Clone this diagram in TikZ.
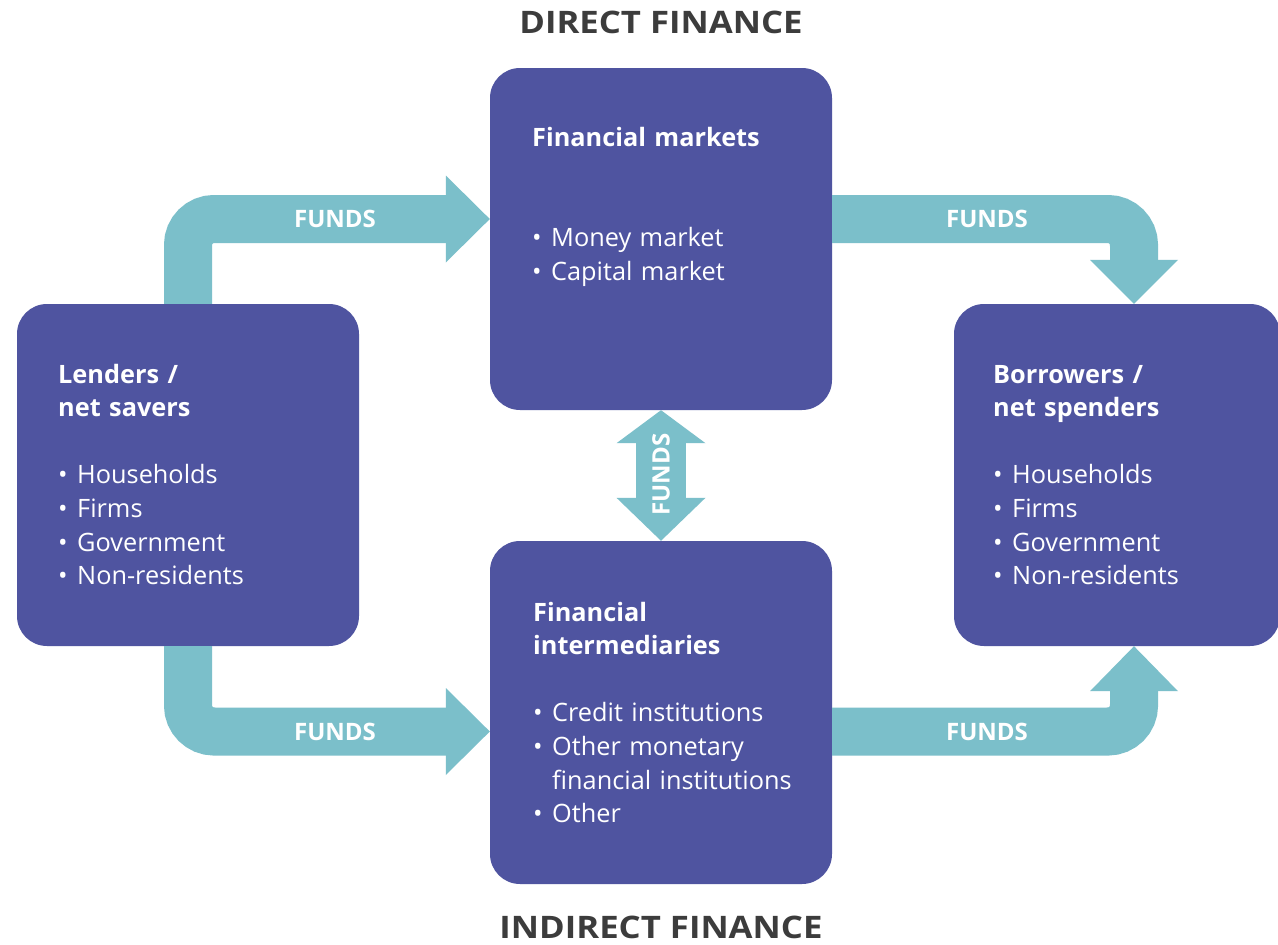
\documentclass[tikz,border=0pt]{standalone}
\usepackage{fontspec}
\setmainfont{Open Sans}
\newfontfamily\headfont[FakeStretch=1.12]{Open Sans}
\usetikzlibrary{calc}
\definecolor{boxblue}{HTML}{4F54A0}
\definecolor{flow}{HTML}{7BBFCA}
\definecolor{headgray}{HTML}{3C3C3C}
\newcommand\bul{\makebox[19pt][l]{•}}
\newcommand\ind{\hspace*{19pt}}
\tikzset{
 panel/.style={fill=boxblue, rounded corners=30pt, inner sep=0pt, minimum width=342pt, minimum height=342pt},
 paneltext/.style={anchor=base west, text=white, align=left, text width=310pt, inner sep=0pt, font=\fontsize{25.3}{33.6}\selectfont},
 shaft/.style={draw=flow, line width=48pt, rounded corners=26pt},
 headtip/.style={fill=flow},
 fundslabel/.style={text=white, font=\fontsize{24}{28}\selectfont\bfseries, inner sep=0pt},
 heading/.style={text=headgray, font=\headfont\fontsize{31}{36}\selectfont\bfseries, inner sep=0pt, anchor=base}
}
\begin{document}
\begin{tikzpicture}[x=1pt,y=-1pt]
\useasboundingbox (0,0) rectangle (1278,945);
\clip (0,0) rectangle (1278,945);
\fill[white] (0,0) rectangle (1278,945);

% panels
\node[panel] (fm) at (661,239) {};
\node[panel, minimum height=343pt] (fi) at (661,712.5) {};
\node[panel] (lend) at (188,475) {};
\node[panel, minimum width=326pt] (bor) at (1117,475) {};

% arrow end points
\coordinate (t1) at ([yshift=20pt]fm.west);
\coordinate (t2) at ([xshift=17pt]bor.north);
\coordinate (t3) at ([yshift=-19pt]fi.west);
\coordinate (t4) at ([xshift=17pt]bor.south);
\coordinate (s2) at ([yshift=20pt]fm.east);
\coordinate (s4) at ([yshift=-19pt]fi.east);

% top-left
\draw[shaft] (lend.north) -- (lend.north |- t1) -- ([xshift=-43pt]t1);
\fill[headtip] (t1) -- ([xshift=-44pt,yshift=43.5pt]t1) -- ([xshift=-44pt,yshift=-43.5pt]t1) -- cycle;
% top-right
\draw[shaft] (s2) -- (s2 -| t2) -- ([yshift=43pt]t2);
\fill[headtip] (t2) -- ([xshift=-44pt,yshift=44pt]t2) -- ([xshift=44pt,yshift=44pt]t2) -- cycle;
% bottom-left
\draw[shaft] (lend.south) -- (lend.south |- t3) -- ([xshift=-43pt]t3);
\fill[headtip] (t3) -- ([xshift=-44pt,yshift=43.5pt]t3) -- ([xshift=-44pt,yshift=-43.5pt]t3) -- cycle;
% bottom-right
\draw[shaft] (s4) -- (s4 -| t4) -- ([yshift=-44pt]t4);
\fill[headtip] (t4) -- ([xshift=-44pt,yshift=-45pt]t4) -- ([xshift=44pt,yshift=-45pt]t4) -- cycle;
% middle double arrow
\draw[draw=flow, line width=50pt] ([yshift=-32pt]fm.south) -- ([yshift=42pt]fi.north);
\fill[headtip] (fm.south) -- ([xshift=-44.5pt,yshift=-33pt]fm.south) -- ([xshift=44.5pt,yshift=-33pt]fm.south) -- cycle;
\fill[headtip] (fi.north) -- ([xshift=-44.5pt,yshift=43pt]fi.north) -- ([xshift=44.5pt,yshift=43pt]fi.north) -- cycle;

% FUNDS labels
\node[fundslabel] (f1) at (335,218.5) {FUNDS};
\node[fundslabel] (f2) at (987,218.5) {FUNDS};
\node[fundslabel] (f3) at (335,731.5) {FUNDS};
\node[fundslabel] (f4) at (987,731.5) {FUNDS};
\node[fundslabel, rotate=90] (f5) at (661,474.5) {FUNDS};

% panel texts
\node[paneltext] (fmtext) at (532,146) {\textbf{Financial markets}\\[67.2pt]\bul Money market\\ \bul Capital market};
\node[paneltext] (fitext) at (533,621) {\textbf{Financial}\\ \textbf{intermediaries}\\[33.6pt]\bul Credit institutions\\ \bul Other monetary\\ \ind financial institutions\\ \bul Other};
\node[paneltext] (lendtext) at (58,383) {\textbf{Lenders /}\\ \textbf{net savers}\\[33.6pt]\bul Households\\ \bul Firms\\ \bul Government\\ \bul Non-residents};
\node[paneltext] (bortext) at (993,383) {\textbf{Borrowers /}\\ \textbf{net spenders}\\[33.6pt]\bul Households\\ \bul Firms\\ \bul Government\\ \bul Non-residents};

% headings
\node[heading] (direct) at (661,33) {DIRECT FINANCE};
\node[heading] (indirect) at (661,938) {INDIRECT FINANCE};
\end{tikzpicture}
\end{document}
